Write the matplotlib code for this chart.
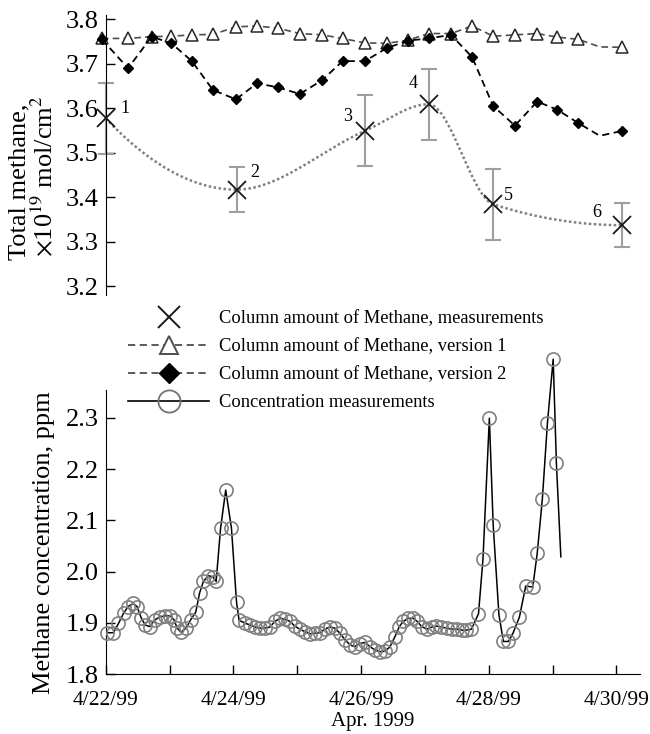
import numpy as np
import matplotlib
matplotlib.use("Agg")
import matplotlib.pyplot as plt
from matplotlib.lines import Line2D

plt.rcParams['font.family'] = ['Liberation Serif', 'DejaVu Serif']
plt.rcParams['mathtext.fontset'] = 'stix'

# days after 4/22/99 00:00
model_days = [-0.06, 0.35, 0.72, 1.03, 1.35, 1.68, 2.04, 2.37, 2.70, 3.04, 3.39, 3.71,
              4.06, 4.40, 4.73, 5.06, 5.41, 5.74, 6.07, 6.41, 6.76, 7.07, 7.40, 7.74, 8.09]
version1 = [3.757, 3.757, 3.761, 3.762, 3.765, 3.766, 3.783, 3.785, 3.780, 3.768, 3.765, 3.757,
            3.747, 3.746, 3.753, 3.768, 3.768, 3.785, 3.762, 3.765, 3.768, 3.760, 3.755, 3.738, 3.737]
version2 = [3.755, 3.690, 3.761, 3.746, 3.706, 3.641, 3.620, 3.656, 3.647, 3.632, 3.663, 3.706,
            3.706, 3.735, 3.752, 3.757, 3.765, 3.715, 3.605, 3.561, 3.615, 3.597, 3.567, 3.538, 3.549]
hidden_point = 23   # vertex without a visible marker

meas_days = [0.0, 2.05, 4.06, 5.06, 6.07, 8.09]
meas_vals = [3.577, 3.417, 3.549, 3.609, 3.384, 3.337]
meas_err = [0.08, 0.05, 0.08, 0.08, 0.08, 0.05]
meas_names = ['1', '2', '3', '4', '5', '6']

conc_days = [0.02, 0.12, 0.20, 0.28, 0.35, 0.43, 0.49, 0.56, 0.62, 0.69, 0.77, 0.85, 0.93, 1.01,
             1.07, 1.12, 1.18, 1.26, 1.33, 1.41, 1.47, 1.53, 1.61, 1.68, 1.73, 1.80, 1.88, 1.97,
             2.05, 2.09, 2.18, 2.26, 2.34, 2.42, 2.49, 2.57, 2.65, 2.73, 2.81, 2.89, 2.96, 3.04,
             3.12, 3.20, 3.28, 3.36, 3.43, 3.51, 3.59, 3.67, 3.75, 3.83, 3.90, 3.98, 4.06, 4.14,
             4.22, 4.30, 4.37, 4.45, 4.53, 4.60, 4.66, 4.74, 4.82, 4.88, 4.95, 5.03, 5.11, 5.18,
             5.26, 5.34, 5.42, 5.50, 5.58, 5.65, 5.73, 5.84, 5.91, 6.01, 6.07, 6.16, 6.23, 6.31,
             6.38, 6.48, 6.58, 6.69, 6.76, 6.84, 6.92, 7.01, 7.06, 7.13]
conc_ppm = [1.881, 1.881, 1.899, 1.919, 1.932, 1.938, 1.932, 1.909, 1.896, 1.893, 1.906, 1.912,
            1.914, 1.914, 1.906, 1.890, 1.882, 1.890, 1.906, 1.921, 1.958, 1.981, 1.992, 1.990,
            1.981, 2.085, 2.159, 2.085, 1.940, 1.905, 1.900, 1.896, 1.892, 1.890, 1.890, 1.892,
            1.903, 1.909, 1.907, 1.903, 1.894, 1.888, 1.883, 1.879, 1.880, 1.881, 1.888, 1.892,
            1.890, 1.880, 1.867, 1.857, 1.854, 1.860, 1.862, 1.854, 1.847, 1.844, 1.845, 1.853,
            1.873, 1.893, 1.903, 1.909, 1.909, 1.903, 1.893, 1.888, 1.892, 1.894, 1.892, 1.890,
            1.888, 1.888, 1.886, 1.886, 1.888, 1.918, 2.024, 2.299, 2.091, 1.916, 1.864, 1.864,
            1.880, 1.911, 1.972, 1.970, 2.036, 2.141, 2.290, 2.414, 2.212, 2.029]

tick_labels = ['4/22/99', '', '4/24/99', '', '4/26/99', '', '4/28/99', '', '4/30/99']

label_offsets = [(19, 10), (18, 17), (-17, 14), (-16, 21), (15, 9), (-25, 13)]


def pchip(x, y, xs):  # monotone cubic through the measurements (dotted guide line)
    x = np.asarray(x, float)
    y = np.asarray(y, float)
    h = np.diff(x)
    d = np.diff(y) / h
    n = len(x)
    m = np.zeros(n)
    for k in range(1, n - 1):
        if d[k - 1] * d[k] > 0:
            w1 = 2 * h[k] + h[k - 1]
            w2 = h[k] + 2 * h[k - 1]
            m[k] = (w1 + w2) / (w1 / d[k - 1] + w2 / d[k])

    def edge(h0, h1, d0, d1):
        v = ((2 * h0 + h1) * d0 - h0 * d1) / (h0 + h1)
        if np.sign(v) != np.sign(d0):
            return 0.0
        if np.sign(d0) != np.sign(d1) and abs(v) > 3 * abs(d0):
            return 3 * d0
        return v
    m[0] = edge(h[0], h[1], d[0], d[1])
    m[-1] = edge(h[-1], h[-2], d[-1], d[-2])
    i = np.clip(np.searchsorted(x, xs) - 1, 0, n - 2)
    t = (xs - x[i]) / h[i]
    h00 = 2 * t**3 - 3 * t**2 + 1
    h10 = t**3 - 2 * t**2 + t
    h01 = -2 * t**3 + 3 * t**2
    h11 = t**3 - t**2
    return h00 * y[i] + h10 * h[i] * m[i] + h01 * y[i + 1] + h11 * h[i] * m[i + 1]


W, H = 650, 734
fig = plt.figure(figsize=(W / 100, H / 100), dpi=100)

ax_left = 105.7 / W
ax_w = (640 - 105.7) / W
ax1 = fig.add_axes([ax_left, 1 - 295 / H, ax_w, 280 / H])
ax2 = fig.add_axes([ax_left, 1 - 674.3 / H, ax_w, (674.3 - 390) / H])

# ---- top panel: column amount
show = [k for k in range(len(model_days)) if k != hidden_point]
ax1.plot(model_days, version1, color='0.3', lw=1.2, dashes=(4, 2.5), marker='^', ms=9,
         mfc='white', mec='0.15', mew=1.1, markevery=show, clip_on=False, zorder=3)
ax1.plot(model_days, version2, color='black', lw=1.3, dashes=(4, 2.5), marker='D', ms=5.5,
         mfc='black', mec='black', markevery=show, clip_on=False, zorder=4)

xs = np.linspace(meas_days[0], meas_days[-1], 300)
ax1.plot(xs, pchip(meas_days, meas_vals, xs), color='0.5', lw=1.8, ls=(0, (1, 1)), zorder=2)
ax1.errorbar(meas_days, meas_vals, yerr=meas_err, fmt='none', ecolor='0.62', elinewidth=1.5,
             capsize=6, capthick=1.5, clip_on=False, zorder=2)
ax1.plot(meas_days, meas_vals, ls='none', marker='x', ms=13, mew=1.3, color='0.1',
         clip_on=False, zorder=5)
for xd, yv, name, off in zip(meas_days, meas_vals, meas_names, label_offsets):
    ax1.annotate(name, (xd, yv), xytext=off, textcoords='offset pixels',
                 ha='center', va='center', fontsize=13)

ax1.set_xlim(0, 8.37)
ax1.set_ylim(3.18, 3.8097)
ax1.set_yticks([3.2, 3.3, 3.4, 3.5, 3.6, 3.7, 3.8])
ax1.set_yticklabels(['3.2', '3.3', '3.4', '3.5', '3.6', '3.7', '3.8'])
ax1.set_xticks([])
for s in ['top', 'right', 'bottom']:
    ax1.spines[s].set_visible(False)
ax1.tick_params(axis='y', direction='in', length=6.5, width=1, labelsize=19, pad=5)

fig.text(19 / W, 1 - 182 / H, 'Total methane,', rotation=90, ha='center', va='center', fontsize=19)
fig.text(44 / W, 1 - 176 / H, r'$\times$10$^{19}$ mol/cm$^{2}$', rotation=90, ha='center',
         va='center', fontsize=19)

# ---- bottom panel: concentration
ax2.plot(conc_days, conc_ppm, color='black', lw=1.1, marker='o', ms=9.5, mfc='none',
         mec='0.5', mew=1.2, markevery=slice(0, len(conc_days) - 1), clip_on=False, zorder=3)
ax2.set_xlim(0, 8.37)
ax2.set_ylim(1.8, 2.354)
ax2.set_yticks([1.8, 1.9, 2.0, 2.1, 2.2, 2.3])
ax2.set_yticklabels(['1.8', '1.9', '2.0', '2.1', '2.2', '2.3'])
ax2.set_xticks(range(9))
ax2.set_xticklabels(tick_labels)
for s in ['top', 'right']:
    ax2.spines[s].set_visible(False)
ax2.tick_params(axis='y', direction='in', length=6.5, width=1, labelsize=19, pad=5)
ax2.tick_params(axis='x', direction='in', length=6.5, width=1, labelsize=15.5, pad=12)
ax2.set_xlabel('Apr. 1999', fontsize=15, labelpad=1.5)
fig.text(44 / W, 1 - 543 / H, 'Methane concentration, ppm', rotation=90, ha='center',
         va='center', fontsize=19)

handles = [
    Line2D([], [], ls='none', marker='x', ms=16, mew=1.4, color='0.1'),
    Line2D([], [], color='0.3', lw=1.3, dashes=(4, 2.5), marker='^', ms=13, mfc='white',
           mec='0.3', mew=1.4),
    Line2D([], [], color='0.3', lw=1.3, dashes=(4, 2.5), marker='D', ms=10, mfc='black',
           mec='black'),
    Line2D([], [], color='black', lw=1.2, marker='o', ms=16, mfc='none', mec='0.45', mew=1.3),
]
names = ['Column amount of Methane, measurements', 'Column amount of Methane, version 1',
         'Column amount of Methane, version 2', 'Concentration measurements']
fig.legend(handles, names, loc='upper left', bbox_to_anchor=(128 / W, 1 - 310 / H),
           frameon=False, fontsize=13.3, handlelength=4.4, handletextpad=0.5,
           labelspacing=0.6, borderpad=0, borderaxespad=0)

fig.savefig('out.png', dpi=100)
